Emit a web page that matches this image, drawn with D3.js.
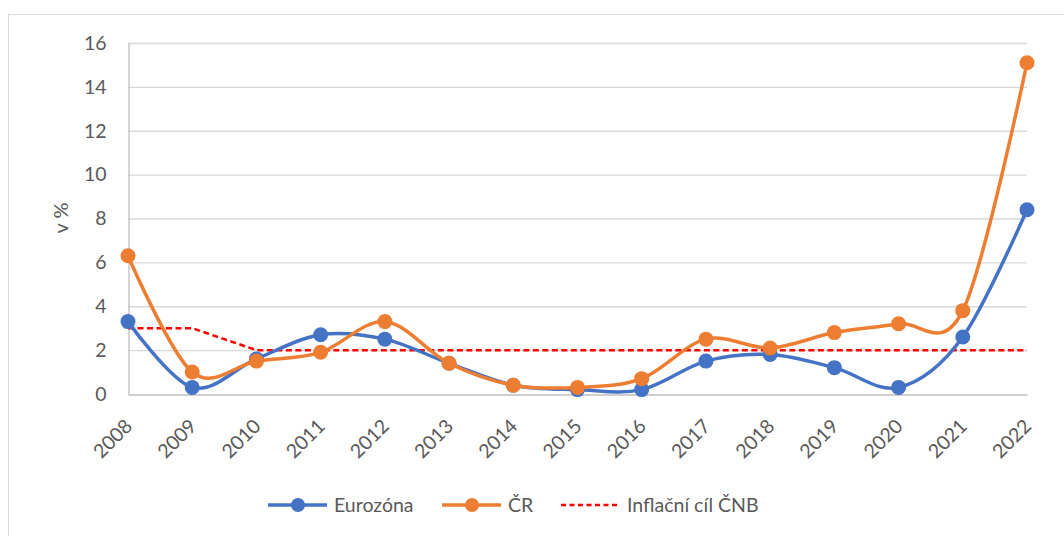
<!DOCTYPE html>
<html>
<head>
<meta charset="utf-8">
<script src="https://cdn.jsdelivr.net/npm/d3@7"></script>
<style>
  body { margin: 0; background: #fff; }
  svg { display: block; font-family: Lato, "Open Sans", sans-serif; }
</style>
</head>
<body>
<svg id="chart" width="1064" height="536"></svg>
<script>
'use strict';

// data
var years = ['2008', '2009', '2010', '2011', '2012', '2013', '2014', '2015',
             '2016', '2017', '2018', '2019', '2020', '2021', '2022'];
var eurozona = [3.3, 0.3, 1.6, 2.7, 2.5, 1.4, 0.4, 0.2, 0.2, 1.5, 1.8, 1.2, 0.3, 2.6, 8.4];
var cr = [6.3, 1.0, 1.5, 1.9, 3.3, 1.4, 0.4, 0.3, 0.7, 2.5, 2.1, 2.8, 3.2, 3.8, 15.1];
var cilCnb = [3, 3, 2, 2, 2, 2, 2, 2, 2, 2, 2, 2, 2, 2, 2];
var yTicks = [0, 2, 4, 6, 8, 10, 12, 14, 16];

var svg = d3.select('#chart');

// outer frame
svg.append('rect')
	.attr('x', 8.5).attr('y', 14.5)
	.attr('width', 1070).attr('height', 540)
	.attr('fill', 'none').attr('stroke', '#d9d9d9');

var x = d3.scalePoint().domain(years).range([128, 1027]);
var y = d3.scaleLinear().domain([0, 16]).range([394, 43]);

// gridlines
svg.append('g').selectAll('line')
	.data(yTicks.slice(1))
	.join('line')
	.attr('x1', 128).attr('x2', 1027)
	.attr('y1', function(d) { return y(d) + 0.5; })
	.attr('y2', function(d) { return y(d) + 0.5; })
	.attr('stroke', '#d9d9d9').attr('stroke-width', 1.3);

// y axis
var yAxis = svg.append('g')
	.attr('transform', 'translate(128.5,0)')
	.call(d3.axisLeft(y).tickValues(yTicks).tickSize(0).tickPadding(22));
yAxis.select('.domain').attr('stroke', '#bfbfbf').attr('stroke-width', 1.3);
yAxis.selectAll('text').attr('fill', '#595959').style('font-size', '19.5px')
	.style('font-family', 'Lato, "Open Sans", sans-serif');

// x axis
var xAxis = svg.append('g')
	.attr('transform', 'translate(0,394.5)')
	.call(d3.axisBottom(x).tickSize(0).tickPadding(0));
xAxis.select('.domain').attr('stroke', '#bfbfbf').attr('stroke-width', 1.3);
xAxis.selectAll('text')
	.attr('fill', '#595959').style('font-size', '19.5px')
	.style('font-family', 'Lato, "Open Sans", sans-serif')
	.attr('text-anchor', 'end')
	.attr('dy', null)
	.attr('y', 0)
	.attr('transform', 'translate(5,33) rotate(-45)');

// axis title
svg.append('text')
	.attr('transform', 'translate(68,218) rotate(-90)')
	.attr('text-anchor', 'middle')
	.attr('fill', '#595959').style('font-size', '20px')
	.text('v %');

// lines
var smooth = d3.line()
	.x(function(d, i) { return x(years[i]); })
	.y(function(d) { return y(d); })
	.curve(d3.curveCatmullRom.alpha(0));

var straight = d3.line()
	.x(function(d, i) { return x(years[i]); })
	.y(function(d) { return y(d); });

svg.append('path').datum(cilCnb)
	.attr('d', straight).attr('fill', 'none')
	.attr('stroke', '#ff0000').attr('stroke-width', 2.5)
	.attr('stroke-dasharray', '6,3.5');

var series = [
	{ name: 'Eurozóna', values: eurozona, color: '#4472c4' },
	{ name: 'ČR', values: cr, color: '#ed7d31' }
];

series.forEach(function(s) {
	svg.append('path').datum(s.values)
		.attr('d', smooth).attr('fill', 'none')
		.attr('stroke', s.color).attr('stroke-width', 3.5)
		.attr('stroke-linejoin', 'round');
	svg.append('g').selectAll('circle')
		.data(s.values)
		.join('circle')
		.attr('cx', function(d, i) { return x(years[i]); })
		.attr('cy', function(d) { return y(d); })
		.attr('r', 7.5)
		.attr('fill', s.color);
});

// legend
var legend = [
	{ name: 'Eurozóna', color: '#4472c4', x0: 268, marker: true },
	{ name: 'ČR', color: '#ed7d31', x0: 442, marker: true },
	{ name: 'Inflační cíl ČNB', color: '#ff0000', x0: 561, marker: false }
];
var ly = 505;
legend.forEach(function(l) {
	var g = svg.append('g');
	g.append('line')
		.attr('x1', l.x0).attr('x2', l.x0 + 59)
		.attr('y1', ly).attr('y2', ly)
		.attr('stroke', l.color)
		.attr('stroke-width', l.marker ? 3.5 : 2.5)
		.attr('stroke-dasharray', l.marker ? null : '5,3.5');
	if (l.marker) {
		g.append('circle').attr('cx', l.x0 + 30).attr('cy', ly).attr('r', 7).attr('fill', l.color);
	}
	g.append('text')
		.attr('x', l.x0 + 66).attr('y', ly + 7)
		.attr('fill', '#595959').style('font-size', '19.5px')
		.text(l.name);
});
</script>
</body>
</html>
